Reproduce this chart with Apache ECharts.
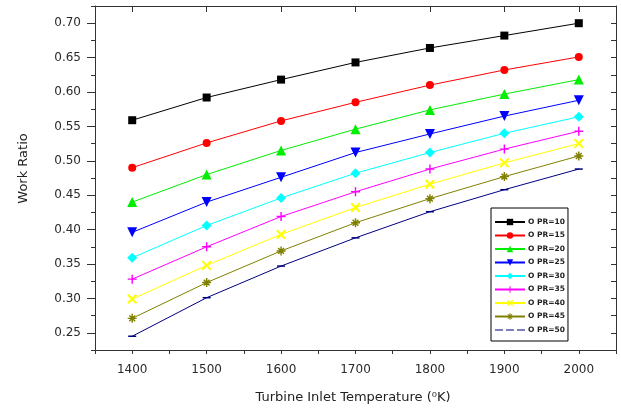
<!DOCTYPE html>
<html>
<head>
<meta charset="utf-8">
<script src="https://cdn.jsdelivr.net/npm/echarts@6/dist/echarts.min.js"></script>
<style>html,body{margin:0;padding:0;background:#fff}#c{width:621px;height:410px}</style>
</head>
<body>
<div id="c"></div>
<script>
const temps = [1400, 1500, 1600, 1700, 1800, 1900, 2000];
const seriesNames = ['O PR=10','O PR=15','O PR=20','O PR=25','O PR=30','O PR=35','O PR=40','O PR=45','O PR=50'];
const opr10 = [0.559, 0.592, 0.618, 0.643, 0.664, 0.682, 0.700];
const opr15 = [0.490, 0.526, 0.558, 0.585, 0.610, 0.632, 0.651];
const opr20 = [0.440, 0.480, 0.515, 0.546, 0.574, 0.597, 0.618];
const opr25 = [0.396, 0.440, 0.476, 0.512, 0.539, 0.565, 0.588];
const opr30 = [0.359, 0.406, 0.446, 0.482, 0.512, 0.540, 0.564];
const opr35 = [0.328, 0.375, 0.419, 0.455, 0.488, 0.517, 0.543];
const opr40 = [0.299, 0.348, 0.393, 0.432, 0.466, 0.497, 0.525];
const opr45 = [0.271, 0.323, 0.369, 0.410, 0.445, 0.477, 0.507];
const opr50 = [0.245, 0.301, 0.347, 0.388, 0.426, 0.458, 0.488];
const xTickLabels = [1400, 1500, 1600, 1700, 1800, 1900, 2000];
const yTickLabels = [0.25, 0.30, 0.35, 0.40, 0.45, 0.50, 0.55, 0.60, 0.65, 0.70];
const yMinorTicks = [0.225, 0.275, 0.325, 0.375, 0.425, 0.475, 0.525, 0.575, 0.625, 0.675, 0.725];
const yAllTicks = [0.225,0.25,0.275,0.30,0.325,0.35,0.375,0.40,0.425,0.45,0.475,0.50,0.525,0.55,0.575,0.60,0.625,0.65,0.675,0.70,0.725];
const xTitle = 'Turbine Inlet Temperature (\u2070K)';
const yTitle = 'Work Ratio';

const allValues = [opr10, opr15, opr20, opr25, opr30, opr35, opr40, opr45, opr50];
const colors = ['#000000','#ff0000','#00ee00','#0000ff','#00ffff','#ff00ff','#ffff00','#808000','#000080'];

const plusPath = 'path://M4.2,0L5.8,0L5.8,4.2L10,4.2L10,5.8L5.8,5.8L5.8,10L4.2,10L4.2,5.8L0,5.8L0,4.2L4.2,4.2Z';
const xPath = 'path://M7.687,1.182L8.818,2.313L6.131,5L8.818,7.687L7.687,8.818L5,6.131L2.313,8.818L1.182,7.687L3.869,5L1.182,2.313L2.313,1.182L5,3.869Z';
const starPath = 'path://M4.2,0L5.8,0L5.8,4.2L10,4.2L10,5.8L5.8,5.8L5.8,10L4.2,10L4.2,5.8L0,5.8L0,4.2L4.2,4.2Z' +
  'M7.687,1.182L8.818,2.313L6.131,5L8.818,7.687L7.687,8.818L5,6.131L2.313,8.818L1.182,7.687L3.869,5L1.182,2.313L2.313,1.182L5,3.869Z';
const dashIcon = 'path://M0,0L0.01,0L0,0.01Z M0,3.5H8V4.5H0Z M11,3.5H19V4.5H11Z M22,3.5H30V4.5H22Z M30,8L29.99,8L30,7.99Z';
const symbols = ['rect','circle','triangle','path://M0,0L10,0L5,10Z','diamond', plusPath, xPath, starPath, 'rect'];
const sizes = [8, 8, 10, 10, 10, 9, 10, 9, [8, 1.5]];

const axisCol = '#333';
const font = '"DejaVu Sans", "Liberation Sans", Arial, sans-serif';

const series = seriesNames.map((n, i) => ({
  name: n,
  type: 'line',
  data: temps.map((t, j) => [t, allValues[i][j]]),
  symbol: symbols[i],
  symbolSize: sizes[i],
  showAllSymbol: true,
  lineStyle: { color: colors[i], width: 1 },
  itemStyle: { color: colors[i] },
  emphasis: { disabled: true },
  z: 10
}));

const legendData = seriesNames.map((n, i) => i === 8 ? { name: n, icon: dashIcon } : { name: n });

const chart = echarts.init(document.getElementById('c'), null, { renderer: 'canvas' });
chart.setOption({
  animation: false,
  backgroundColor: '#fff',
  grid: { left: 95, right: 5, top: 6, bottom: 60, containLabel: false },
  xAxis: [
    {
      type: 'value', position: 'bottom', min: 1350, max: 2050, interval: 50,
      axisLine: { show: true, lineStyle: { color: axisCol, width: 1 } },
      axisTick: { show: true, inside: false, length: 4, lineStyle: { color: axisCol } },
      axisLabel: { customValues: xTickLabels, formatter: v => String(v), fontFamily: font, fontSize: 12, color: '#2a2a2a', margin: 14 },
      splitLine: { show: false }
    },
    {
      type: 'value', position: 'top', min: 1350, max: 2050, interval: 50,
      axisLine: { show: true, lineStyle: { color: axisCol, width: 1 } },
      axisTick: { show: true, inside: true, length: 6, customValues: xTickLabels, lineStyle: { color: axisCol } },
      axisLabel: { show: false },
      splitLine: { show: false }
    }
  ],
  yAxis: [
    {
      type: 'value', position: 'left', min: 0.225, max: 0.725, interval: 0.025,
      axisLine: { show: true, lineStyle: { color: axisCol, width: 1 } },
      axisTick: { show: true, inside: false, length: 8, customValues: yTickLabels, lineStyle: { color: axisCol } },
      axisLabel: { customValues: yTickLabels, formatter: v => v.toFixed(2), fontFamily: font, fontSize: 12, color: '#2a2a2a', margin: 14 },
      splitLine: { show: false }
    },
    {
      type: 'value', position: 'left', min: 0.225, max: 0.725, interval: 0.025,
      axisLine: { show: false },
      axisTick: { show: true, inside: false, length: 4, customValues: yMinorTicks, lineStyle: { color: axisCol } },
      axisLabel: { show: false },
      splitLine: { show: false }
    },
    {
      type: 'value', position: 'right', min: 0.225, max: 0.725, interval: 0.025,
      axisLine: { show: true, lineStyle: { color: axisCol, width: 1 } },
      axisTick: { show: true, inside: true, length: 5, customValues: yAllTicks, lineStyle: { color: axisCol } },
      axisLabel: { show: false },
      splitLine: { show: false }
    }
  ],
  legend: {
    data: legendData,
    orient: 'vertical',
    left: 491, top: 208,
    backgroundColor: '#fff',
    borderColor: '#000', borderWidth: 1,
    padding: [10, 3, 7, 3],
    itemWidth: 30, itemHeight: 8, itemGap: 5.5,
    textStyle: { fontFamily: font, fontSize: 7.5, fontWeight: 'bold', color: '#222', padding: [0, 0, 0, -2] },
    selectedMode: false
  },
  graphic: [
    { type: 'text', x: 353, y: 398, style: { text: xTitle, font: '13px "DejaVu Sans", sans-serif', fill: '#222', align: 'center', verticalAlign: 'middle' } },
    { type: 'text', x: 24, y: 168.5, rotation: Math.PI / 2, style: { text: yTitle, font: '13px "DejaVu Sans", sans-serif', fill: '#222', align: 'center', verticalAlign: 'middle' } }
  ],
  series: series
});
</script>
</body>
</html>
